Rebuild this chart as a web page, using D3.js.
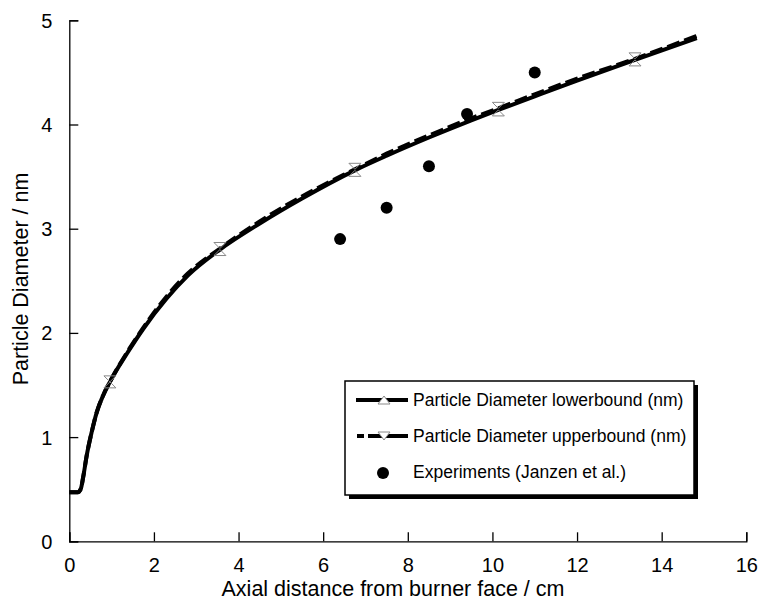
<!DOCTYPE html>
<html>
<head>
<meta charset="utf-8">
<script src="https://cdn.jsdelivr.net/npm/d3@7"></script>
<style>
  html, body { margin: 0; padding: 0; background: #fff; }
  svg { display: block; font-family: "Liberation Sans", Arial, sans-serif; }
</style>
</head>
<body>
<svg id="chart" width="759" height="600"></svg>
<script>
// Axial positions (cm) of the model profile points
const axialX = [0, 0.2, 0.27, 0.33, 0.41, 0.53, 0.65, 0.8, 0.96, 1.36, 1.75, 2.3, 2.8, 3.56, 4.5, 5.5, 6.75, 7.5, 8.5, 9.5, 10.14, 11, 12, 13.37, 14.83];
// Model particle diameter (nm), lower and upper bound
const diamLower = [0.47, 0.47, 0.50, 0.62, 0.82, 1.05, 1.24, 1.40, 1.53, 1.80, 2.04, 2.33, 2.55, 2.80, 3.05, 3.29, 3.56, 3.70, 3.875, 4.04, 4.14, 4.27, 4.42, 4.62, 4.83];
const diamUpper = [0.47, 0.47, 0.50, 0.62, 0.82, 1.05, 1.24, 1.40, 1.53, 1.81, 2.05, 2.35, 2.57, 2.81, 3.07, 3.31, 3.57, 3.72, 3.895, 4.06, 4.155, 4.29, 4.44, 4.63, 4.85];
// Indices of the profile points that carry a marker
const markerIdx = [8, 13, 16, 20, 23];
// Experimental data (Janzen et al.)
const expX = [6.4, 7.5, 8.5, 9.4, 11.0];
const expD = [2.9, 3.2, 3.6, 4.1, 4.5];

const xTicks = [0, 2, 4, 6, 8, 10, 12, 14, 16];
const yTicks = [0, 1, 2, 3, 4, 5];

const seriesNames = [
  "Particle Diameter lowerbound (nm)",
  "Particle Diameter upperbound (nm)",
  "Experiments (Janzen et al.)"
];
const xTitle = "Axial distance from burner face / cm";
const yTitle = "Particle Diameter / nm";

const svg = d3.select("#chart");
const plotL = 69.3, plotR = 746.3, plotT = 20.3, plotB = 541.3;

const x = d3.scaleLinear().domain([0, 16]).range([plotL, plotR]);
const y = d3.scaleLinear().domain([0, 5]).range([plotB, plotT]);

// Axes: ticks point into the plot area
const xAxis = d3.axisBottom(x).tickValues(xTicks).tickSize(-9).tickPadding(0).tickFormat(d3.format("d"));
const yAxis = d3.axisLeft(y).tickValues(yTicks).tickSize(-9).tickPadding(0).tickFormat(d3.format("d"));

const gx = svg.append("g").attr("transform", `translate(0,${plotB})`).call(xAxis);
const gy = svg.append("g").attr("transform", `translate(${plotL},0)`).call(yAxis);
[gx, gy].forEach(g => {
  g.select(".domain").attr("stroke", "#000").attr("stroke-width", 1.3);
  g.selectAll(".tick line").attr("stroke", "#000").attr("stroke-width", 1.3);
  g.selectAll(".tick text").attr("fill", "#000").attr("font-size", 20)
    .attr("font-family", "Liberation Sans, Arial, sans-serif");
});
gx.selectAll(".tick text").attr("dy", null).attr("y", 31);
gy.selectAll(".tick text").attr("dy", "0.35em").attr("x", -17);

// Axis titles
svg.append("text").attr("x", 393).attr("y", 596)
  .attr("text-anchor", "middle").attr("font-size", 21.5).attr("fill", "#000").text(xTitle);
svg.append("text").attr("transform", `translate(28,279) rotate(-90)`)
  .attr("text-anchor", "middle").attr("font-size", 21.5).attr("fill", "#000").text(yTitle);

const line = d3.line().curve(d3.curveMonotoneX);
const lowerPts = axialX.map((v, i) => [x(v), y(diamLower[i])]);
const upperPts = axialX.map((v, i) => [x(v), y(diamUpper[i])]);

svg.append("path").attr("d", line(lowerPts)).attr("fill", "none")
  .attr("stroke", "#000").attr("stroke-width", 4).attr("stroke-linejoin", "round");
svg.append("path").attr("d", line(upperPts)).attr("fill", "none")
  .attr("stroke", "#000").attr("stroke-width", 4).attr("stroke-dasharray", "13,5");

// Triangle markers: apex on the data point
const triUp = (cx, cy, w, h) => `M${cx},${cy}L${cx + w / 2},${cy + h}L${cx - w / 2},${cy + h}Z`;
const triDown = (cx, cy, w, h) => `M${cx},${cy}L${cx + w / 2},${cy - h}L${cx - w / 2},${cy - h}Z`;

svg.append("g").selectAll("path").data(markerIdx).join("path")
  .attr("d", i => triUp(x(axialX[i]), y(diamLower[i]), 12, 6))
  .attr("fill", "none").attr("stroke", "#888").attr("stroke-width", 1);
svg.append("g").selectAll("path").data(markerIdx).join("path")
  .attr("d", i => triDown(x(axialX[i]), y(diamUpper[i]), 12, 6))
  .attr("fill", "none").attr("stroke", "#888").attr("stroke-width", 1);

// Experimental points
svg.append("g").selectAll("circle").data(expX).join("circle")
  .attr("cx", (d) => x(d)).attr("cy", (d, i) => y(expD[i])).attr("r", 6).attr("fill", "#000");

// Legend with drop shadow
const lg = svg.append("g");
const lx = 345, ly = 381, lw = 349, lh = 114;
lg.append("rect").attr("x", lx + 4).attr("y", ly + 4).attr("width", lw).attr("height", lh).attr("fill", "#000");
lg.append("rect").attr("x", lx).attr("y", ly).attr("width", lw).attr("height", lh)
  .attr("fill", "#fff").attr("stroke", "#000").attr("stroke-width", 1.5);

const rowY = [400, 436, 472];
const sx0 = 356, sx1 = 408, smx = 384, tx = 413;
// lowerbound sample
lg.append("line").attr("x1", sx0).attr("x2", sx1).attr("y1", rowY[0]).attr("y2", rowY[0])
  .attr("stroke", "#000").attr("stroke-width", 4);
lg.append("path").attr("d", `M${smx},${rowY[0] - 4}L${smx + 6},${rowY[0] + 4}L${smx - 6},${rowY[0] + 4}Z`)
  .attr("fill", "#fff").attr("stroke", "#888").attr("stroke-width", 1);
// upperbound sample
lg.append("line").attr("x1", sx0 + 12).attr("x2", sx1).attr("y1", rowY[1]).attr("y2", rowY[1])
  .attr("stroke", "#000").attr("stroke-width", 4);
lg.append("line").attr("x1", sx0 + 1).attr("x2", sx0 + 8).attr("y1", rowY[1]).attr("y2", rowY[1])
  .attr("stroke", "#000").attr("stroke-width", 4);
lg.append("path").attr("d", `M${smx},${rowY[1] + 4}L${smx + 6},${rowY[1] - 4}L${smx - 6},${rowY[1] - 4}Z`)
  .attr("fill", "#fff").attr("stroke", "#888").attr("stroke-width", 1);
// experiments sample
lg.append("circle").attr("cx", smx - 1).attr("cy", rowY[2] + 1).attr("r", 6).attr("fill", "#000");

lg.selectAll("text.lab").data(seriesNames).join("text").attr("class", "lab")
  .attr("x", tx).attr("y", (d, i) => rowY[i] + 6).attr("font-size", 17.5).attr("fill", "#000").text(d => d);
</script>
</body>
</html>
